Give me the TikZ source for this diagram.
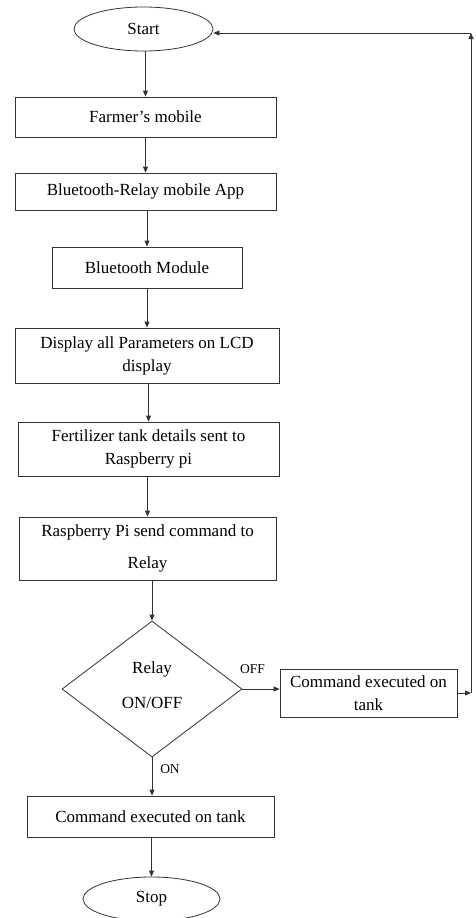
\documentclass[tikz,border=0pt]{standalone}
\usepackage{fontspec}
\setmainfont{Liberation Serif}
\usetikzlibrary{shapes.geometric,arrows.meta}
\tikzset{
  line/.style={draw=black!80, line width=0.8pt},
  box/.style={line, rectangle, inner sep=0pt, align=center, font=\fontsize{17}{23}\selectfont},
  term/.style={line, ellipse, inner sep=0pt, minimum width=139pt, minimum height=44pt, font=\fontsize{17}{23}\selectfont},
  decision/.style={line, diamond, inner sep=0pt, minimum width=180pt, minimum height=136pt, align=center, font=\fontsize{17}{23}\selectfont},
  flow/.style={line, -{Triangle[length=6pt,width=5pt]}},
  lbl/.style={font=\fontsize{13.5}{16}\selectfont, inner sep=0pt}
}
\begin{document}
\begin{tikzpicture}[x=1pt,y=-1pt]
\clip (0,0) rectangle (476,918);
\fill[white] (0,0) rectangle (476,918);

\node[term] (start) at (143.5,29) {Start};
\node[box, minimum width=261pt, minimum height=40pt] (farmer) at (145.5,117) {Farmer’s mobile};
\node[box, minimum width=261pt, minimum height=37pt] (app) at (145.5,191.5) {Bluetooth-Relay mobile App};
\node[box, minimum width=190pt, minimum height=41pt] (module) at (147,267.5) {Bluetooth Module};
\node[box, minimum width=264pt, minimum height=55pt] (lcd) at (147,355.5) {Display all Parameters on LCD\\display};
\node[box, minimum width=261pt, minimum height=54pt] (fert) at (148.5,449) {Fertilizer tank details sent to\\Raspberry pi};
\node[box, minimum width=257pt, minimum height=63pt] (rasp) at (147.5,548.5) {Raspberry Pi send command to\\[9pt]Relay};
\node[decision] (relay) at (152,689) {};
\node[font=\fontsize{17}{23}\selectfont, inner sep=0pt] (relaytxt) at (152,669) {Relay};
\node[font=\fontsize{17}{23}\selectfont, inner sep=0pt] (onofftxt) at (152,703) {ON/OFF};
\node[box, minimum width=177pt, minimum height=48pt] (cmdoff) at (368.5,693) {Command executed on\\tank};
\node[box, minimum width=247pt, minimum height=41pt] (cmdon) at (150.5,816.5) {Command executed on tank};
\node[term, minimum width=137pt] (stop) at (151.5,899) {Stop};

\node[lbl] (offl) at (252.5,669) {OFF};
\node[lbl] (onl) at (170,769) {ON};

\coordinate (c1) at (471,693);
\coordinate (c2) at (471,33);

\draw[flow] (farmer.north |- start.south) -- (farmer.north);
\draw[flow] (app.north |- farmer.south) -- (app.north);
\draw[flow] (module.north |- app.south) -- (module.north);
\draw[flow] (lcd.north |- module.south) -- (lcd.north);
\draw[flow] (fert.north |- lcd.south) -- (fert.north);
\draw[flow] (rasp.north |- fert.south) -- (rasp.north);
\draw[flow] (relay.north |- rasp.south) -- (relay.north);
\draw[flow] (relay.south) -- (relay.south |- cmdon.north);
\draw[flow] (stop.north |- cmdon.south) -- (stop.north);
\draw[flow] (relay.east) -- (cmdoff.west |- relay.east);
\draw[flow] (cmdoff.east) -- (c1);
\draw[flow] (c1) -- (c2);
\draw[flow] (c2) -- (start.east |- c2);
\end{tikzpicture}
\end{document}
